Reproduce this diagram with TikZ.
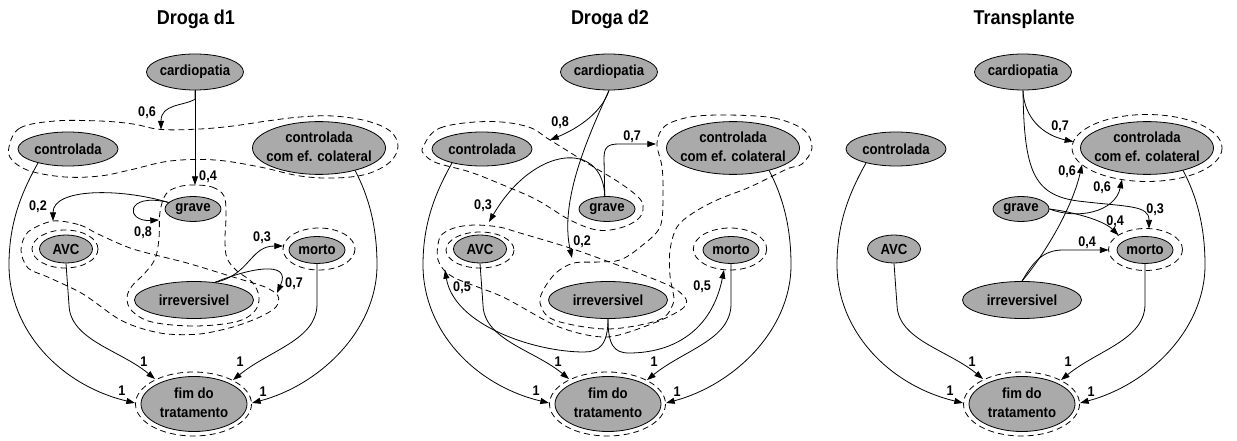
\documentclass[tikz,border=0pt]{standalone}
\usepackage{fontspec}
\setmainfont{Liberation Sans}
\newfontfamily\narrowfont{Liberation Sans}[FakeStretch=0.9]
\usetikzlibrary{shapes.geometric,arrows.meta}
\definecolor{nodegray}{RGB}{170,170,170}
\newcommand{\ntxt}[1]{\makebox[0pt]{#1}}
\tikzset{
  nd/.style={ellipse, draw, line width=0.6pt, fill=nodegray, inner sep=0pt,
    font=\narrowfont\fontsize{11}{14}\selectfont\bfseries},
  nCard/.style={minimum width=72.75pt, minimum height=27pt},
  nCtrl/.style={minimum width=75pt, minimum height=25.5pt},
  nCol/.style={minimum width=99.75pt, minimum height=39pt},
  nGrave/.style={minimum width=42pt, minimum height=18.75pt},
  nAvc/.style={minimum width=39.75pt, minimum height=21pt},
  nMorto/.style={minimum width=42pt, minimum height=20.25pt},
  nIrr/.style={minimum width=89.25pt, minimum height=27.75pt},
  nFim/.style={minimum width=79.5pt, minimum height=41.25pt},
  ttl/.style={font=\narrowfont\fontsize{15}{17}\selectfont\bfseries, inner sep=0pt},
  lbl/.style={font=\narrowfont\fontsize{10.5}{12}\selectfont\bfseries, inner sep=0pt},
  arr/.style={draw, line width=0.6pt, -{Triangle[length=6.5pt,width=4.5pt]}},
  dsh/.style={draw, line width=0.6pt, dash pattern=on 4.5pt off 3pt}
}
\newcommand{\panelbase}[2]{%
  \node[ttl] (#1-title) at (196,19) {#2};
  \node[nd, nCard] (#1-card) at (195,72) {\ntxt{cardiopatia}};
  \node[nd, nCtrl] (#1-ctrl) at (68,149) {\ntxt{controlada}};
  \node[nd, nCol] (#1-col) at (319,148) {\ntxt{\begin{tabular}{@{}c@{}}controlada\\com ef. colateral\end{tabular}}};
  \node[nd, nGrave] (#1-grave) at (193,209) {\ntxt{grave}};
  \node[nd, nAvc] (#1-avc) at (66,249) {\ntxt{AVC}};
  \node[nd, nMorto] (#1-morto) at (317,250) {\ntxt{morto}};
  \node[nd, nIrr] (#1-irr) at (194,300) {\ntxt{irreversivel}};
  \node[nd, nFim] (#1-fim) at (194,404) {\ntxt{\begin{tabular}{@{}c@{}}fim do\\tratamento\end{tabular}}};
  \draw[dsh] (193.5,404) ellipse [x radius=58, y radius=32];
  \coordinate (#1-f1) at (135,403);
  \coordinate (#1-f2) at (252,403);
  \coordinate (#1-f3) at (155,379);
  \coordinate (#1-f4) at (233,380);
  \draw[arr] (#1-ctrl.205) .. controls (20,195) and (9,225) .. (9,265) .. controls (9,330) and (60,385) .. (#1-f1);
  \draw[arr] (#1-col.328) .. controls (368,195) and (377,225) .. (377,265) .. controls (377,330) and (320,385) .. (#1-f2);
  \draw[arr] (#1-avc.south) -- (69,305) .. controls (70,340) and (120,350) .. (#1-f3);
  \draw[arr] (#1-morto.south) -- (317,305) .. controls (316,340) and (270,350) .. (#1-f4);
  \node[lbl] (#1-l1) at (122,391) {1};
  \node[lbl] (#1-l2) at (263,392) {1};
  \node[lbl] (#1-l3) at (144,362) {1};
  \node[lbl] (#1-l4) at (240,362) {1};
}
\begin{document}
\begin{tikzpicture}[x=0.75pt,y=-0.75pt]
\useasboundingbox (0,0) rectangle (1237,441);

% ---------------- Droga d1 ----------------
\panelbase{a}{Droga d1}
\draw[dsh] plot[smooth cycle, tension=0.6] coordinates {(9,147) (20,128) (55,121) (100,121) (133,124) (161,129.5) (200,129) (233,126) (267,121) (300,117) (333,116) (367,121) (390,131) (398,146) (390,162) (367,174) (335,178) (300,176) (260,167) (215,160) (170,161) (130,170) (100,176) (65,177) (30,171) (12,160)};
\draw[dsh] plot[smooth cycle, tension=0.6] coordinates {(193,185) (212,187) (224,196) (226,215) (225,240) (227,258) (237,271) (252,282) (259,297) (254,312) (235,322) (194,326) (152,322) (132,311) (127,298) (132,286) (144,274) (155,259) (159,238) (160,212) (166,194) (178,187)};
\draw[dsh] plot[smooth cycle, tension=0.5] coordinates {(53,221) (80,225) (98,234) (133,249) (187,263) (233,277) (265,287) (278,296) (276,307) (260,317) (233,327) (200,334) (167,334) (140,328) (117,318) (83,294) (50,278) (28,268) (21,250) (28,232)};
\draw[dsh] (65,249) ellipse [x radius=33, y radius=19];
\draw[dsh] (319,249) ellipse [x radius=36, y radius=21];
\coordinate (a-t06) at (161,129.5);
\coordinate (a-t04) at (195,185);
\coordinate (a-t02) at (53,221);
\coordinate (a-t08) at (159,220);
\coordinate (a-t03) at (283,246);
\coordinate (a-t07) at (277,293);
\draw[arr] (a-card.south) -- (a-t04);
\draw[arr] (a-card.south) -- ++(0,9) .. controls (183,106) and (161,104) .. (a-t06);
\draw[arr] (a-grave.165) .. controls (120,188) and (53,188) .. (a-t02);
\draw[arr] (a-grave.165) .. controls (125,192) and (125,222) .. (a-t08);
\draw[arr] (a-irr.40) .. controls (250,275) and (250,246) .. (a-t03);
\draw[arr] (a-irr.40) .. controls (250,268) and (292,260) .. (a-t07);
\node[lbl] (a-p06) at (147,113) {0,6};
\node[lbl] (a-p04) at (208,177) {0,4};
\node[lbl] (a-p02) at (38,207) {0,2};
\node[lbl] (a-p08) at (143,233) {0,8};
\node[lbl] (a-p03) at (262,238) {0,3};
\node[lbl] (a-p07) at (294,284) {0,7};

% ---------------- Droga d2 ----------------
\begin{scope}[xshift=310.5pt]
\panelbase{b}{Droga d2}
\draw[dsh] plot[smooth cycle, tension=0.6] coordinates {(9,147) (26,128) (73,121.5) (113,126.5) (136,140) (173,163) (206,183) (226,199) (229,210) (223,220) (206,228) (183,230) (156,220) (123,200) (89,185) (56,172) (23,163) (11,155)};
\draw[dsh] (66,250) ellipse [x radius=34, y radius=18];
\draw[dsh] plot[smooth cycle, tension=0.5] coordinates {(60,225) (85,227) (106,233) (156,248) (206,266) (256,286) (272,299) (268,309) (240,323) (193,337) (145,327) (89,297) (39,277) (24,260) (26,237) (40,228)};
\draw[dsh] plot[smooth cycle, tension=0.55] coordinates {(313,115) (360,118) (390,130) (398,148) (388,164) (373,169) (336,187) (303,200) (279,213) (263,227) (256,250) (256,276) (259,292) (259,304) (245,320) (193,329) (140,320) (126,303) (131,287) (143,272) (160,263) (185,262) (206,260) (225,248) (246,227) (249,193) (248,167) (243,143) (251,126) (276,117)};
\draw[dsh] (316,249) ellipse [x radius=36.7, y radius=21];
\coordinate (b-t08) at (136,140);
\coordinate (b-t02) at (158,258);
\coordinate (b-t03) at (75,222);
\coordinate (b-t07) at (242,144);
\coordinate (b-t05a) at (31,270);
\coordinate (b-t05b) at (310,270);
\draw[arr] (b-card.south) .. controls (188,112) and (165,128) .. (b-t08);
\draw[arr] (b-card.south) .. controls (175,135) and (145,200) .. (b-t02);
\draw[arr] (b-grave.100) .. controls (189,140) and (120,145) .. (b-t03);
\draw[arr] (b-grave.100) -- (190,158) .. controls (190,147) and (194,144) .. (205,144) -- (b-t07);
\draw[arr] (b-irr.south) .. controls (194,345) and (185,352) .. (170,352) .. controls (120,352) and (40,325) .. (b-t05a);
\draw[arr] (b-irr.south) .. controls (194,345) and (200,353) .. (215,353) .. controls (260,353) and (298,330) .. (b-t05b);
\node[lbl] (b-p08) at (146,123) {0,8};
\node[lbl] (b-p02) at (168,242) {0,2};
\node[lbl] (b-p03) at (69,206) {0,3};
\node[lbl] (b-p07) at (218,137) {0,7};
\node[lbl] (b-p05a) at (48,288) {0,5};
\node[lbl] (b-p05b) at (288,287) {0,5};
\end{scope}

% ---------------- Transplante ----------------
\begin{scope}[xshift=621pt]
\panelbase{c}{Transplante}
\draw[dsh] (319,148) ellipse [x radius=75, y radius=33.5];
\draw[dsh] (317.5,249.5) ellipse [x radius=37, y radius=21];
\coordinate (c-t07) at (245.3,141.7);
\coordinate (c-t03) at (321,228.6);
\coordinate (c-t06b) at (294,179.6);
\coordinate (c-t04a) at (290.5,235.2);
\coordinate (c-t06a) at (254,164.7);
\coordinate (c-t04b) at (280.5,250);
\draw[arr] (c-card.south) .. controls (196,118) and (215,135) .. (c-t07);
\draw[arr] (c-card.south) .. controls (196,170) and (205,195) .. (250,201) .. controls (300,207) and (321,205) .. (c-t03);
\draw[arr] (c-grave.east) .. controls (250,220) and (287,212) .. (c-t06b);
\draw[arr] (c-grave.east) .. controls (245,212) and (275,220) .. (c-t04a);
\draw[arr] (c-irr.north) .. controls (220,250) and (245,205) .. (c-t06a);
\draw[arr] (c-irr.north) .. controls (205,262) and (215,250) .. (235,250) -- (c-t04b);
\node[lbl] (c-p07) at (232,127) {0,7};
\node[lbl] (c-p03) at (327,210) {0,3};
\node[lbl] (c-p06b) at (274,188) {0,6};
\node[lbl] (c-p04a) at (287,222) {0,4};
\node[lbl] (c-p06a) at (239,172) {0,6};
\node[lbl] (c-p04b) at (259,243) {0,4};
\end{scope}
\end{tikzpicture}
\end{document}
